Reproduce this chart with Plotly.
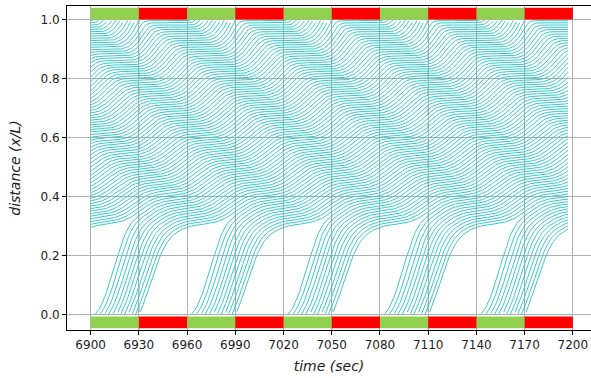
import numpy as np
import plotly.graph_objects as go

# ---- signal plan (seconds) ----
green_starts = [6900, 6960, 7020, 7080, 7140]
green_ends = [6930, 6990, 7050, 7110, 7170]
red_starts = [6930, 6990, 7050, 7110, 7170]
red_ends = [6960, 7020, 7080, 7140, 7200]
x_ticks = [6900, 6930, 6960, 6990, 7020, 7050, 7080, 7110, 7140, 7170, 7200]
y_ticks = [0.0, 0.2, 0.4, 0.6, 0.8, 1.0]

# ---- ring-road car-following run (IDM) that produces the trajectories ----
ring_length = 1000.0     # m
n_vehicles = 69
free_speed = 24.0        # m/s
time_gap = 1.5           # s
max_accel = 1.7          # m/s2
comf_decel = 2.0         # m/s2
min_gap = 2.5            # m
veh_length = 5.0         # m
stop_offset = 1.0        # m
cycle_length = 60.0
green_time = 30.0
sim_start = 5400.0
plot_start = 6900.0
plot_end = 7197.0
dt = 0.1
sample_every = 1.0

N = n_vehicles
L = ring_length
X = (N - 1 - np.arange(N)) * L / N
V = np.zeros(N)
sq = 2.0 * np.sqrt(max_accel * comf_decel)


def idm(v, s, dv):
    s_star = min_gap + np.maximum(0.0, v * time_gap + v * dv / sq)
    return max_accel * (1.0 - (v / free_speed) ** 4 - (s_star / np.maximum(s, 0.2)) ** 2)


steps = int(round((plot_end - sim_start) / dt))
m = int(round(sample_every / dt))
rec_t, rec_x = [], []
for k in range(steps + 1):
    t = sim_start + k * dt
    if t >= plot_start - 1e-9 and k % m == 0:
        rec_t.append(t)
        rec_x.append(X.copy())
    lead_X = np.roll(X, 1)
    lead_X[0] += L
    lead_V = np.roll(V, 1)
    s = lead_X - X - veh_length
    acc = idm(V, s, V - lead_V)
    if ((t - plot_start) % cycle_length) >= green_time - 1e-9:
        d = (np.floor(X / L) + 1.0) * L - X
        obey = d >= V ** 2 / (2 * 4.0)
        acc = np.where(obey, np.minimum(acc, idm(V, d - stop_offset, V)), acc)
    Vn = np.maximum(V + acc * dt, 0.0)
    X = X + 0.5 * (V + Vn) * dt
    V = Vn

R = np.array(rec_x)
tt = np.array(rec_t)
xs, ys = [], []
for i in range(N):
    lap = np.floor(R[:, i] / L)
    frac = (R[:, i] - lap * L) / L
    for j in range(len(tt)):
        if j > 0 and lap[j] != lap[j - 1]:
            xs.append(None)
            ys.append(None)
        xs.append(float(tt[j]))
        ys.append(float(frac[j]))
    xs.append(None)
    ys.append(None)

fig = go.Figure()
fig.add_trace(go.Scatter(x=xs, y=ys, mode="lines", line=dict(color="#3cc8c8", width=1),
                         hoverinfo="skip", showlegend=False))

shapes = []
for g0, g1 in zip(green_starts, green_ends):
    for y0, y1 in [(1.0, 1.04), (-0.045, -0.005)]:
        shapes.append(dict(type="rect", xref="x", yref="y", x0=g0, x1=g1, y0=y0, y1=y1,
                           fillcolor="#92d050", line=dict(width=0), layer="above"))
for r0, r1 in zip(red_starts, red_ends):
    for y0, y1 in [(1.0, 1.04), (-0.045, -0.005)]:
        shapes.append(dict(type="rect", xref="x", yref="y", x0=r0, x1=r1, y0=y0, y1=y1,
                           fillcolor="#ff0000", line=dict(width=0), layer="above"))
for r0 in red_starts:
    shapes.append(dict(type="line", xref="x", yref="y", x0=r0, x1=r0, y0=-0.051, y1=1.046,
                       line=dict(color="#707070", width=1, dash="dash"), layer="below"))

fig.update_layout(
    width=591, height=378,
    margin=dict(l=67, r=0, t=6, b=48),
    paper_bgcolor="white", plot_bgcolor="white",
    font=dict(family="DejaVu Sans", size=12, color="#222"),
    shapes=shapes,
    xaxis=dict(range=[6885.3, 7211.3], tickvals=x_ticks, ticktext=[str(v) for v in x_ticks],
               showgrid=True, gridcolor="#b0b0b0", gridwidth=0.8, zeroline=False,
               showline=True, linecolor="black", linewidth=1, mirror=True,
               ticks="outside", ticklen=4, tickcolor="black",
               title=dict(text="<i>time (sec)</i>", font=dict(size=14), standoff=9)),
    yaxis=dict(range=[-0.051, 1.046], tickvals=y_ticks, ticktext=["%.1f" % v for v in y_ticks],
               showgrid=True, gridcolor="#b0b0b0", gridwidth=0.8, zeroline=False,
               showline=True, linecolor="black", linewidth=1, mirror=False,
               ticks="outside", ticklen=4, tickcolor="black",
               title=dict(text="<i>distance (x/L)</i>", font=dict(size=14), standoff=16)),
)
fig.write_html("out.html")
